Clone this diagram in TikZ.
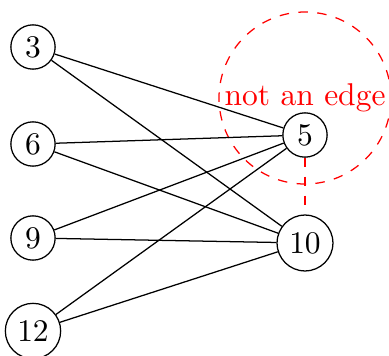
\documentclass[tikz,border=0pt]{standalone}
\begin{document}
\begin{tikzpicture}[x=0.3175pt,y=-0.3175pt,
  vert/.style={circle,draw,inner sep=2pt},
  edge/.style={draw},
  nonedge/.style={draw=red,dashed}]
\useasboundingbox (0,0) rectangle (389,356);
\node[circle,draw=red,dashed,text=red,minimum size=172*0.3175pt,inner sep=0pt] (ne) at (305,98) {not an edge};
\node[vert] (n3) at (33,47) {3};
\node[vert] (n6) at (33,144) {6};
\node[vert] (n9) at (33,238) {9};
\node[vert] (n12) at (33,331) {12};
\node[vert] (n5) at (305,135) {5};
\node[vert] (n10) at (305,243) {10};
\draw[edge] (n3) -- (n5);
\draw[edge] (n3) -- (n10);
\draw[edge] (n6) -- (n5);
\draw[edge] (n6) -- (n10);
\draw[edge] (n9) -- (n5);
\draw[edge] (n9) -- (n10);
\draw[edge] (n12) -- (n5);
\draw[edge] (n12) -- (n10);
\draw[nonedge] (n5) -- (n10);
\end{tikzpicture}
\end{document}
